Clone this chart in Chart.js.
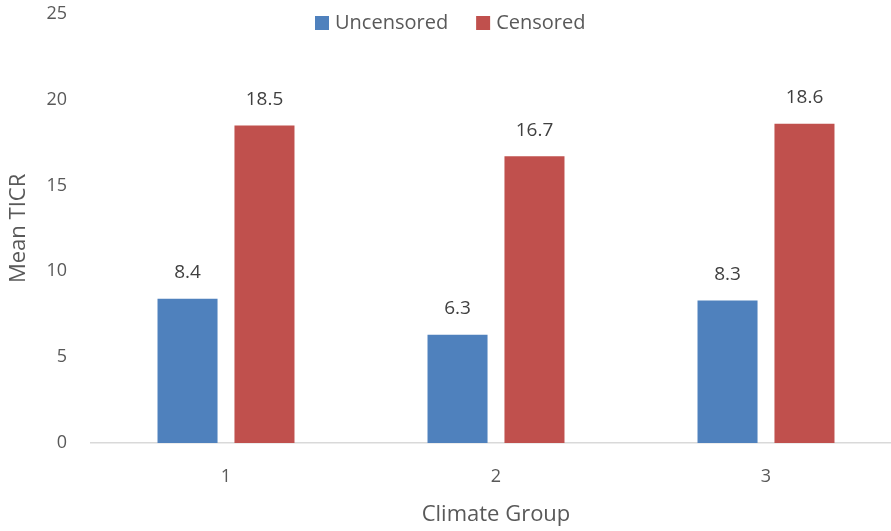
<!DOCTYPE html>
<html>
<head>
<meta charset="utf-8">
<script src="https://cdn.jsdelivr.net/npm/chart.js@4/dist/chart.umd.min.js"></script>
<style>
  html, body { margin: 0; padding: 0; background: #fff; }
  #marco { width: 891px; height: 531px; overflow: hidden; position: relative; }
  #wrap { position: absolute; left: 0; top: -21px; width: 901px; height: 552px; }
</style>
</head>
<body>
<div id="marco"><div id="wrap"><canvas id="grafico"></canvas></div></div>
<script>
// datos
var grupos = ["1", "2", "3"];
var sin_censura = [8.4, 6.3, 8.3];
var con_censura = [18.5, 16.7, 18.6];
var ticks_y = [0, 5, 10, 15, 20, 25];

var fuente = "'Open Sans', sans-serif";
var gris = "#595959";

// etiquetas encima de cada barra
var etiquetas = {
	id: "etiquetas",
	afterDatasetsDraw: function(chart){
		var ctx = chart.ctx;
		ctx.save();
		ctx.font = "19px " + fuente;
		ctx.fillStyle = "#404040";
		ctx.textAlign = "center";
		ctx.textBaseline = "middle";
		chart.data.datasets.forEach(function(ds, i){
			chart.getDatasetMeta(i).data.forEach(function(bar, j){
				ctx.fillText(ds.data[j].toFixed(1), bar.x, bar.y - 26);
			});
		});
		ctx.restore();
	}
};

// leyenda dibujada a mano, sin ocupar espacio
var leyenda = {
	id: "leyenda",
	afterDraw: function(chart){
		var ctx = chart.ctx;
		ctx.save();
		ctx.font = "20px " + fuente;
		ctx.textBaseline = "middle";
		var x = 315, y = 44; // el lienzo esta desplazado 21px hacia arriba
		chart.data.datasets.forEach(function(ds){
			ctx.fillStyle = ds.backgroundColor;
			ctx.fillRect(x, y - 7, 14, 14);
			ctx.fillStyle = gris;
			ctx.textAlign = "left";
			ctx.fillText(ds.label, x + 20, y);
			x += 20 + ctx.measureText(ds.label).width + 28;
		});
		ctx.restore();
	}
};

var datos = {
	type: "bar",
	data: {
		labels: grupos,
		datasets: [{
			label: "Uncensored",
			data: sin_censura,
			backgroundColor: "#4F81BD"
		}, {
			label: "Censored",
			data: con_censura,
			backgroundColor: "#C0504D"
		}]
	},
	options: {
		responsive: true,
		maintainAspectRatio: false,
		animation: false,
		layout: { padding: { top: 0, right: 0, left: 0, bottom: 0 } },
		categoryPercentage: 0.57,
		barPercentage: 0.78,
		plugins: {
			legend: { display: false },
			tooltip: { enabled: false }
		},
		scales: {
			x: {
				grid: { display: false, drawTicks: false },
				border: { display: true, color: "#d9d9d9", width: 1.5 },
				ticks: { color: gris, font: { size: 18, family: fuente }, padding: 23 },
				title: { display: true, text: "Climate Group", color: gris, font: { size: 22, family: fuente }, padding: { top: 0, bottom: 3 } },
				afterFit: function(s){ s.height = 88; }
			},
			y: {
				min: 0,
				max: 25,
				afterBuildTicks: function(s){ s.ticks = ticks_y.map(function(v){ return { value: v }; }); },
				grid: { display: false, drawTicks: false },
				border: { display: false },
				ticks: { color: gris, font: { size: 18, family: fuente }, padding: 24 },
				title: { display: true, text: "Mean TICR", color: gris, font: { size: 22, family: fuente }, padding: { top: 6, bottom: 0 } },
				afterFit: function(s){ s.width = 91; }
			}
		}
	},
	plugins: [etiquetas, leyenda]
};

var canvas = document.getElementById("grafico").getContext("2d");
window.barras = new Chart(canvas, datos);
</script>
</body>
</html>
